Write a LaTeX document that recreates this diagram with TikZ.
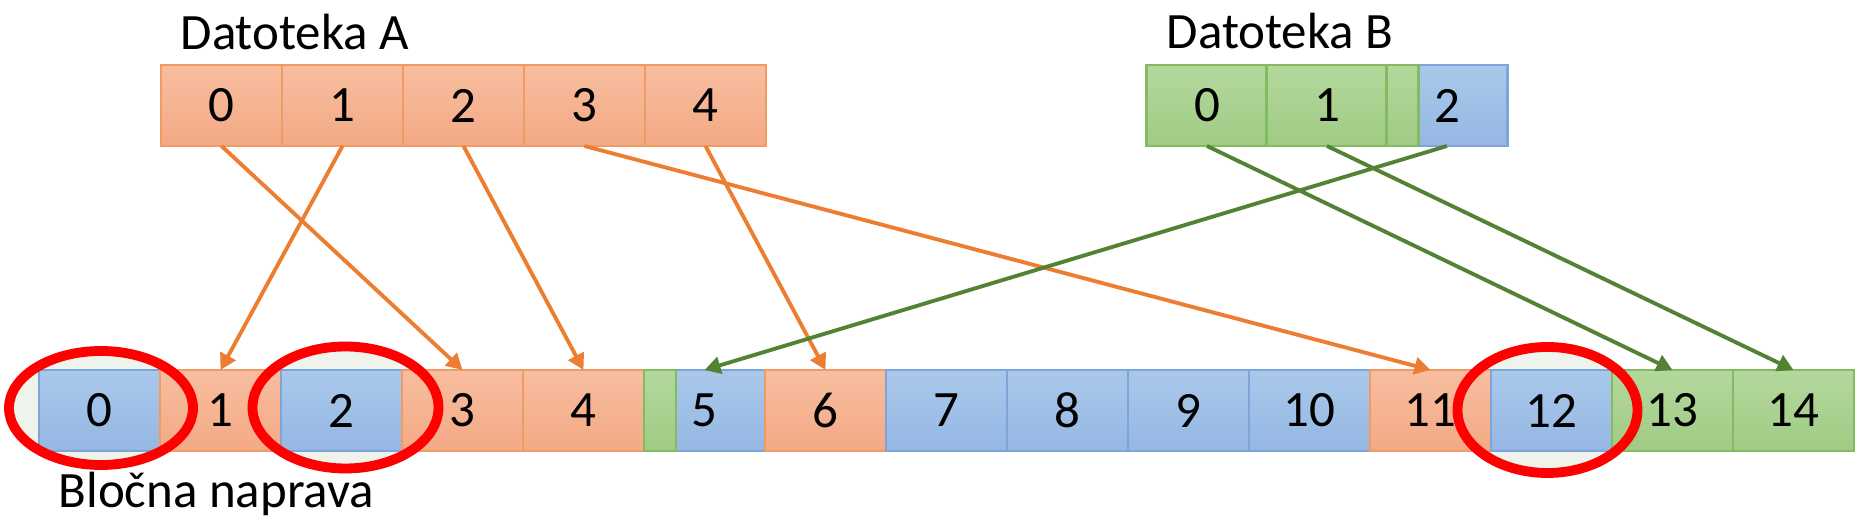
\documentclass[tikz,border=0pt]{standalone}
\usepackage{fontspec}
\setmainfont{Carlito}
\usepackage{xcolor}
\usetikzlibrary{calc, arrows.meta}

\definecolor{orangeline}{HTML}{EE9B64}
\definecolor{orangetop}{HTML}{F7BE9F}
\definecolor{orangebot}{HTML}{F4A985}
\definecolor{bluetop}{HTML}{A9C8EB}
\definecolor{bluebot}{HTML}{95B7E2}
\definecolor{blueline}{HTML}{7DA5D8}
\definecolor{greentop}{HTML}{B4D89D}
\definecolor{greenbot}{HTML}{A0CB84}
\definecolor{greenline}{HTML}{84BA62}
\definecolor{ptrorange}{HTML}{ED7D31}
\definecolor{ptrgreen}{HTML}{548235}
\definecolor{ringfill}{HTML}{EEF3EC}

\tikzset{
  blk/.style = {minimum width=1.21cm, minimum height=0.81cm, inner sep=0pt, outer sep=0pt, line width=0.6pt},
  blk-orange/.style = {blk, draw=orangeline, top color=orangetop, bottom color=orangebot},
  blk-blue/.style = {blk, draw=blueline, top color=bluetop, bottom color=bluebot},
  blk-green/.style = {blk, draw=greenline, top color=greentop, bottom color=greenbot},
  ptr/.style = {line width=1.1pt, -{Triangle[length=1.6mm, width=1.7mm]}},
  ring/.style = {draw=red, line width=2.8pt},
}

\begin{document}
\begin{tikzpicture}[font=\fontsize{14.5}{17}\selectfont]
			\def\bw{1.21};
			\def\bh{0.81};
			\def\dx{0.39};
			\def\dy{1.215};

			\useasboundingbox (0,0) rectangle (18.72,5.32);

			\begin{scope}
				\foreach \k/\sx/\sy/\rx/\ry in {0/0.015/0.025/0.92/0.57, 2/0.04/0.03/0.93/0.61, 12/-0.04/0.005/0.90/0.63}
					\fill [ringfill] ({\dx+(\k+0.5)*\bw+\sx}, {\dy+\sy}) ellipse ({\rx} and {\ry});
			\end{scope}

			\node [anchor=base west, inner sep=0pt] (labA) at (1.80,4.82) {Datoteka A};
			\node [anchor=base west, inner sep=0pt] (labB) at (11.66,4.83) {Datoteka B};
			\node [anchor=base west, inner sep=0pt] (labD) at (0.58,0.24) {Bločna naprava};

			\foreach \i in {0,...,4}
				\node [blk-orange] (a\i) at ({1.61+(\i+0.5)*\bw}, 4.265) {\i};

			\node [blk-green] (b0) at (12.07,4.265) {0};
			\node [blk-green] (b1) at (13.27,4.265) {1};
			\node [blk-blue] (b2) at (14.47,4.265) {2};
			\draw [draw=greenline, top color=greentop, bottom color=greenbot, line width=0.6pt] (b2.south west) rectangle ++(0.32,\bh);

			\foreach \i/\col in {0/blue,1/orange,2/blue,3/orange,4/orange,5/blue,6/orange,7/blue,8/blue,9/blue,10/blue,11/orange,12/blue,13/green,14/green}
				\node [blk-\col] (d\i) at ({\dx+(\i+0.5)*\bw}, \dy) {\i};
			\draw [draw=greenline, top color=greentop, bottom color=greenbot, line width=0.6pt] (d5.south west) rectangle ++(0.32,\bh);

			\begin{scope}[ptr, ptrorange]
				\draw (a0.south) -- (d3.north);
				\draw (a1.south) -- (d1.north);
				\draw (a2.south) -- (d4.north);
				\draw (a3.south) -- (d11.north);
				\draw (a4.south) -- (d6.north);
			\end{scope}

			\begin{scope}[ptr, ptrgreen]
				\draw (b0.south) -- (d13.north);
				\draw (b1.south) -- (d14.north);
				\draw (b2.south) -- (d5.north);
			\end{scope}

			\foreach \k/\sx/\sy/\rx/\ry in {0/0.015/0.025/0.92/0.57, 2/0.04/0.03/0.93/0.61, 12/-0.04/0.005/0.90/0.63}
				\draw [ring] ($(d\k)+(\sx,\sy)$) ellipse ({\rx} and {\ry});
		\end{tikzpicture}
\end{document}
